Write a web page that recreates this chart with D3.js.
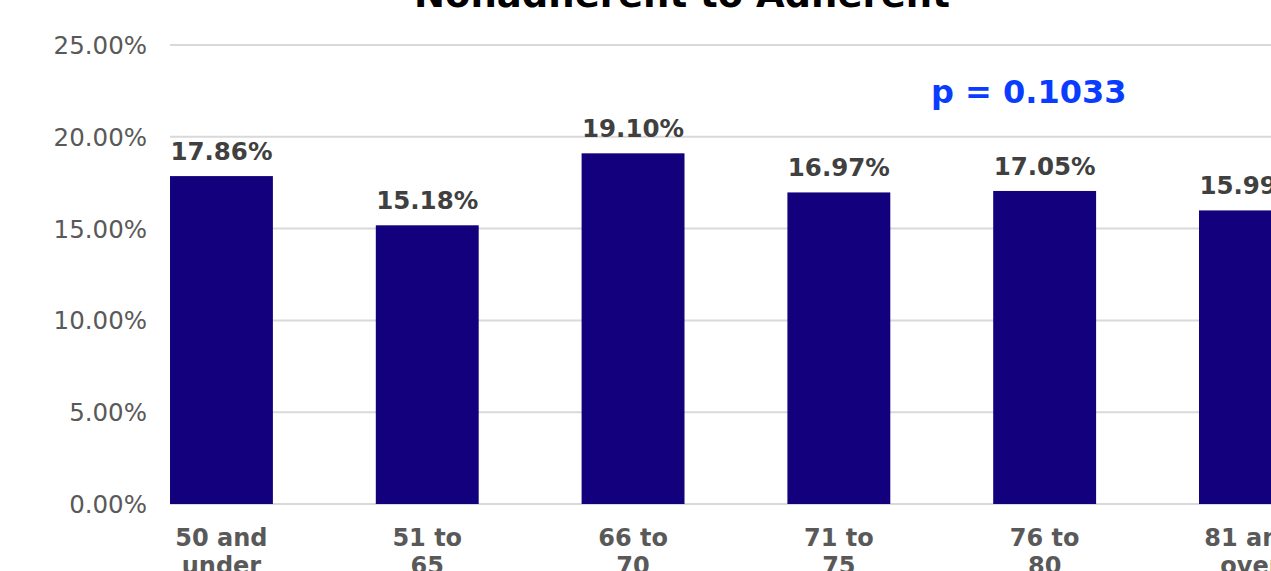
<!DOCTYPE html>
<html><head><meta charset="utf-8">
<script src="https://cdn.jsdelivr.net/npm/d3@7"></script>
<style>html,body{margin:0;padding:0;background:#fff;overflow:hidden}</style>
</head><body>
<svg id="c" width="1271" height="571"></svg>
<script>
const categories = [["50 and","under"],["51 to","65"],["66 to","70"],["71 to","75"],["76 to","80"],["81 and","over"]];
const values = [17.86, 15.18, 19.10, 16.97, 17.05, 15.99];
const yTicks = [0, 5, 10, 15, 20, 25];
const titleText = "Nonadherent to Adherent";
const pText = "p = 0.1033";

const svg = d3.select("#c");
const font = "'DejaVu Sans', Verdana, sans-serif";
const keys = categories.map(c => c.join(" "));
const x = d3.scaleBand().domain(keys).range([118.55, 1353.35]).paddingInner(0.5).paddingOuter(0.25);
const y = d3.scaleLinear().domain([0, 25]).range([504, 45]);

// gridlines
svg.append("g").selectAll("line").data(yTicks).join("line")
  .attr("x1", 170).attr("x2", 1400)
  .attr("y1", d => y(d)).attr("y2", d => y(d))
  .attr("stroke", "#d9d9d9").attr("stroke-width", 2);

// y labels
svg.append("g").selectAll("text").data(yTicks).join("text")
  .attr("x", 147).attr("y", d => y(d) + 9)
  .attr("text-anchor", "end")
  .attr("font-family", font).attr("font-size", 24.5).attr("fill", "#595959")
  .text(d => d.toFixed(2) + "%");

// bars
svg.append("g").selectAll("rect").data(values).join("rect")
  .attr("x", (d, i) => x(keys[i])).attr("width", x.bandwidth())
  .attr("y", d => y(d)).attr("height", d => y(0) - y(d))
  .attr("fill", "#13007c");

// value labels
svg.append("g").selectAll("text").data(values).join("text")
  .attr("x", (d, i) => x(keys[i]) + x.bandwidth() / 2)
  .attr("y", d => y(d) - 16)
  .attr("text-anchor", "middle")
  .attr("font-family", font).attr("font-weight", "bold").attr("font-size", 24.5).attr("fill", "#404040")
  .text(d => d.toFixed(2) + "%");

// category labels
const cl = svg.append("g").selectAll("text").data(categories).join("text")
  .attr("x", (d, i) => x(keys[i]) + x.bandwidth() / 2)
  .attr("y", 546)
  .attr("text-anchor", "middle")
  .attr("font-family", font).attr("font-weight", "bold").attr("font-size", 24).attr("fill", "#595959");
cl.selectAll("tspan").data(d => d).join("tspan")
  .attr("x", function(){ return d3.select(this.parentNode).attr("x"); })
  .attr("dy", (d, j) => j === 0 ? 0 : 28)
  .text(d => d);

// title
svg.append("text").attr("x", 682).attr("y", 7).attr("text-anchor", "middle")
  .attr("font-family", font).attr("font-weight", "bold").attr("font-size", 37).attr("fill", "#000")
  .text(titleText);

// p value
svg.append("text").attr("x", 931).attr("y", 103)
  .attr("font-family", font).attr("font-weight", "bold").attr("font-size", 32).attr("fill", "#0a3cff")
  .text(pText);
</script>
</body></html>
